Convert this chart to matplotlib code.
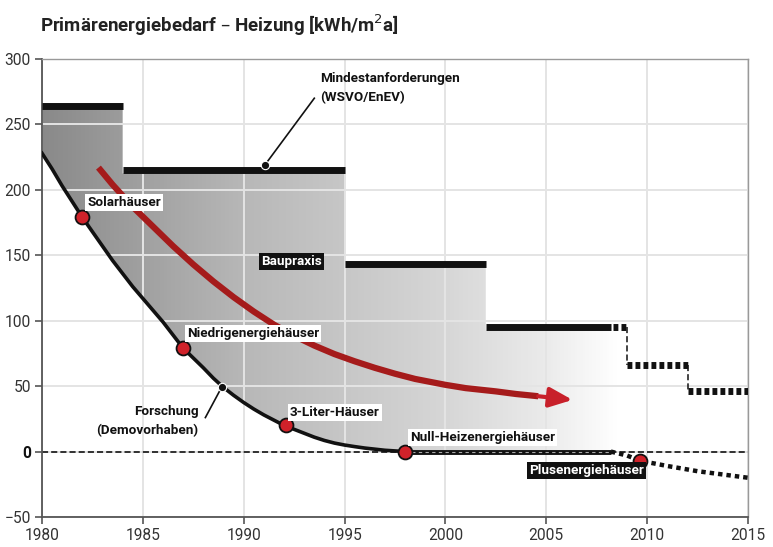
import numpy as np
import matplotlib
matplotlib.use("Agg")
import matplotlib.pyplot as plt
from matplotlib.colors import LinearSegmentedColormap
from matplotlib.patches import Polygon

plt.rcParams['font.family'] = ['Roboto', 'DejaVu Sans']

# Mindestanforderungen (WSVO/EnEV) - Stufen
step_start = [1980, 1984, 1995, 2002]
step_end = [1984, 1995, 2002, 2008.2]
step_value = [264, 215, 143, 95]
# geplante Stufen (gepunktet)
plan_start = [2008.3, 2009, 2012]
plan_end = [2009, 2012, 2015]
plan_value = [95, 66, 46]

# Forschung (Demovorhaben)
research_x = [1980, 1980.5, 1981, 1981.5, 1982, 1982.5, 1983, 1983.5, 1984, 1984.5, 1985, 1985.5,
              1986, 1986.5, 1987, 1987.5, 1988, 1988.5, 1989, 1989.5, 1990, 1990.5, 1991, 1991.5,
              1992, 1992.5, 1993, 1993.5, 1994, 1994.5, 1995, 1995.5, 1996, 1997, 1998, 2008.2]
research_y = [228, 216, 203, 191, 179, 168, 157, 146, 136, 126, 117, 108,
              99, 89, 79, 71.5, 64, 56, 49, 43, 37.5, 32.5, 28, 24,
              20, 17, 14, 11, 8.5, 6.5, 5, 3.8, 2.7, 1, 0, 0]
# Plusenergie-Verlauf
plus_x = [2008.2, 2009, 2009.65, 2011, 2012.5, 2015]
plus_y = [0, -3, -7, -11, -15, -20]

# Baupraxis-Pfeil
arrow_x = [1982.8, 1983.5, 1984.5, 1985.5, 1986.5, 1987.5, 1988.5, 1989.5, 1990.5, 1991.5, 1992.5,
           1993.5, 1994.5, 1995.5, 1996.5, 1997.5, 1998.5, 2000, 2001, 2002.5, 2003.5, 2004.6]
arrow_y = [217, 204, 187, 172, 157, 143, 130, 118, 107, 97, 88.5,
           81, 74.5, 69, 64, 59.5, 55.5, 51, 48.5, 46, 44, 42.3]
arrow_tip = (2006.3, 39.5)

# Haustypen
house_names = ['Solarhäuser', 'Niedrigenergiehäuser', '3-Liter-Häuser', 'Null-Heizenergiehäuser', 'Plusenergiehäuser']
house_x = [1982, 1987, 1992.1, 1998, 2009.65]
house_y = [179, 79, 20, 0, -7]
label_x = [1982.25, 1987.2, 1992.3, 1998.25, 2004.15]
label_y = [190, 90, 30, 10.5, -14.5]

# Verlauf der Fläche
fill_years = [1980, 1985, 1990, 1995, 2000, 2005, 2008.6]
fill_gray = [0.54, 0.63, 0.72, 0.78, 0.84, 0.92, 1.0]

fig = plt.figure(figsize=(7.73, 5.47), dpi=100)
ax = fig.add_axes([0.0543, 0.0548, 0.9134, 0.8374])

# Graue Fläche zwischen Mindestanforderung und Forschung
top = []
for s, e, v in zip(step_start, step_end, step_value):
    top += [(s, v - 2.5), (e, v - 2.5)]
top += [(2009, 92.5), (2009, 0)]
bottom = [(x, y) for x, y in zip(research_x, research_y)][::-1]
poly = Polygon(top + bottom, closed=True, facecolor='none', edgecolor='none')
ax.add_patch(poly)
pos = [(y - fill_years[0]) / (fill_years[-1] - fill_years[0]) for y in fill_years]
cmap = LinearSegmentedColormap.from_list('grad', list(zip(pos, [(g, g, g) for g in fill_gray])))
grad = np.tile(np.linspace(fill_years[0], fill_years[-1], 400), (2, 1))
im = ax.imshow(grad, extent=[fill_years[0], fill_years[-1], -5, 270], origin='lower',
               aspect='auto', cmap=cmap, vmin=fill_years[0], vmax=fill_years[-1], zorder=1)
im.set_clip_path(poly)

ax.set_axisbelow('line')
ax.grid(True, color='#e4e4e4', lw=1.4)

# Nulllinie
ax.axhline(0, color='black', lw=1.1, ls=(0, (4, 2)), zorder=2)

# Stufen
for s, e, v in zip(step_start, step_end, step_value):
    ax.plot([s, e], [v, v], color='#111111', lw=5, solid_capstyle='butt', zorder=4)
for s, e, v in zip(plan_start, plan_end, plan_value):
    ax.plot([s, e], [v, v], color='#111111', lw=5, ls=(0, (0.7, 0.45)), dash_capstyle='butt', zorder=4)
for i in range(len(plan_start) - 1):
    ax.plot([plan_end[i], plan_end[i]], [plan_value[i], plan_value[i + 1]], color='#111111',
            lw=1.1, ls=(0, (4, 2)), zorder=4)

# Forschung
ax.plot(research_x[:-1], research_y[:-1], color='#111111', lw=2.6, zorder=5)
ax.plot(research_x[-2:], research_y[-2:], color='#111111', lw=3.5, solid_capstyle='butt', zorder=5)
ax.plot(research_x[-2:], research_y[-2:], color='#aaaaaa', lw=0.8, ls=(0, (3, 3)), zorder=5)
ax.plot(plus_x, plus_y, color='#111111', lw=3.2, ls=(0, (1.0, 0.9)), dash_capstyle='butt', zorder=5)

# Pfeil
ax.plot(arrow_x, arrow_y, color='#a51b1b', lw=4.5, solid_capstyle='butt', zorder=6)
ax.annotate('', xy=arrow_tip, xytext=(arrow_x[-1], arrow_y[-1]),
            arrowprops=dict(arrowstyle='-|>,head_length=1.4,head_width=0.6', color='#c8202a', lw=3,
                            shrinkA=0, shrinkB=0), zorder=6)

# Punkte und Beschriftungen
ax.plot(house_x, house_y, 'o', ms=10, mfc='#d0222a', mec='#111111', mew=1.3, zorder=8)
for i, name in enumerate(house_names):
    if name == 'Plusenergiehäuser':
        ax.text(label_x[i], label_y[i], name, color='white', fontsize=9.7, fontweight='bold',
                ha='left', va='center', zorder=9,
                bbox=dict(boxstyle='square,pad=0.15', fc='#111111', ec='none'))
    else:
        ax.text(label_x[i], label_y[i], name, color='#111111', fontsize=9.7, fontweight='bold',
                ha='left', va='center', zorder=9,
                bbox=dict(boxstyle='square,pad=0.15', fc='white', ec='none'))

ax.text(1990.85, 145, 'Baupraxis', color='white', fontsize=9.7, fontweight='bold', ha='left',
        va='center', zorder=9, bbox=dict(boxstyle='square,pad=0.15', fc='#111111', ec='none'))

ax.plot([1991.05, 1993.5], [219, 270], color='#111111', lw=1.2, zorder=7)
ax.plot([1991.05], [219], 'o', ms=6, mfc='#111111', mec='white', mew=0.8, zorder=8)
ax.text(1993.8, 278, 'Mindestanforderungen\n(WSVO/EnEV)', color='#111111', fontsize=9.7,
        fontweight='bold', ha='left', va='center', linespacing=1.6, zorder=9)

ax.plot([1988.9, 1988.1], [49, 26], color='#111111', lw=1.2, zorder=7)
ax.plot([1988.9], [49], 'o', ms=6, mfc='#111111', mec='white', mew=0.8, zorder=8)
ax.text(1987.75, 23.5, 'Forschung\n(Demovorhaben)', color='#111111', fontsize=9.7,
        fontweight='bold', ha='right', va='center', multialignment='right', linespacing=1.6, zorder=9)

# Achsen
ax.set_xlim(1980, 2015)
ax.set_ylim(-50, 300)
ax.set_xticks(range(1980, 2016, 5))
ax.set_yticks(range(-50, 301, 50))
ax.tick_params(direction='out', length=5, width=1.2, color='#555555', labelsize=11.2,
               labelcolor='#333333', pad=3)
for lbl in ax.get_yticklabels():
    if lbl.get_text() in ('0', '−0'):
        lbl.set_fontweight('bold')
        lbl.set_color('#111111')
for side in ['left', 'bottom']:
    ax.spines[side].set_color('#555555')
    ax.spines[side].set_linewidth(1.3)
for side in ['top', 'right']:
    ax.spines[side].set_color('#999999')
    ax.spines[side].set_linewidth(1.0)

fig.text(0.052, 0.954, 'Primärenergiebedarf – Heizung [kWh/m$^2$a]', fontsize=13.5, fontweight='bold',
         color='#222222', ha='left', va='center')

fig.savefig('out.png', dpi=100, facecolor='white')
